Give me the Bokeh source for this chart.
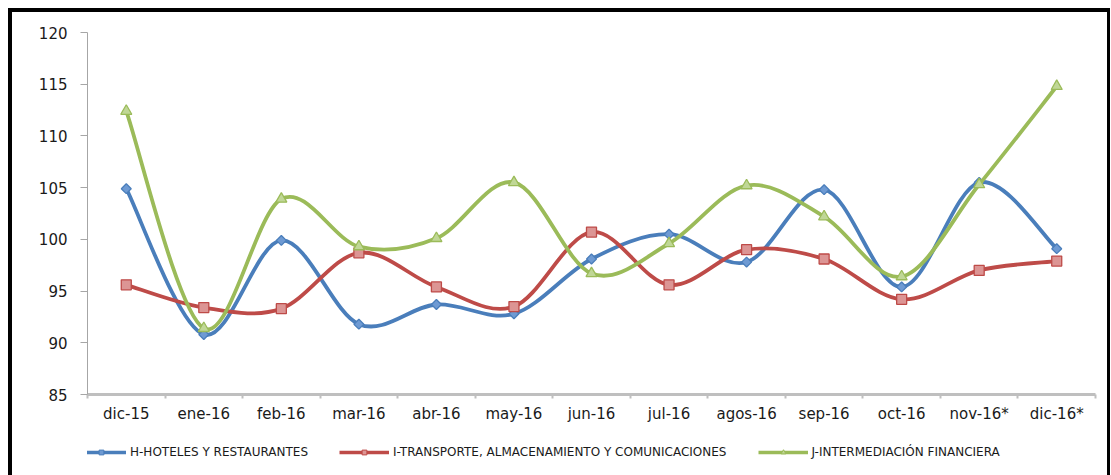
from bokeh.plotting import figure
from bokeh.layouts import column
from bokeh.models import Range1d, FixedTicker, Legend, LegendItem, InlineStyleSheet
from bokeh.embed import file_html
from bokeh.resources import INLINE
import numpy as np

# Monthly index values per sector
months = ["dic-15", "ene-16", "feb-16", "mar-16", "abr-16", "may-16", "jun-16",
          "jul-16", "agos-16", "sep-16", "oct-16", "nov-16*", "dic-16*"]
hoteles = [104.9, 90.8, 99.9, 91.8, 93.7, 92.8, 98.1, 100.5, 97.8, 104.8, 95.4, 105.5, 99.1]
transporte = [95.6, 93.4, 93.3, 98.7, 95.4, 93.5, 100.7, 95.6, 99.0, 98.1, 94.2, 97.0, 97.9]
financiera = [112.4, 91.4, 103.9, 99.3, 100.1, 105.5, 96.7, 99.6, 105.2, 102.2, 96.4, 105.3, 114.8]

labels = ["H-HOTELES Y RESTAURANTES",
          "I-TRANSPORTE, ALMACENAMIENTO Y COMUNICACIONES",
          "J-INTERMEDIACIÓN FINANCIERA"]
y_ticks = [85, 90, 95, 100, 105, 110, 115, 120]

W = 1111
CHART_H, LEGEND_H = 440, 35

p = figure(width=W, height=CHART_H, output_backend="svg", toolbar_location=None,
           x_range=Range1d(-0.5, len(months) - 0.5), y_range=Range1d(85, 120),
           min_border_left=87, min_border_right=16, min_border_top=32,
           min_border_bottom=46)
p.outline_line_color = None
p.xgrid.grid_line_color = None
p.ygrid.grid_line_color = None
p.background_fill_color = "white"
p.border_fill_color = "white"

# y axis
p.yaxis.ticker = FixedTicker(ticks=y_ticks)
p.yaxis.axis_line_color = "#a6a6a6"
p.yaxis.axis_line_width = 1
p.yaxis.major_tick_line_color = "#a6a6a6"
p.yaxis.major_tick_out = 7
p.yaxis.major_tick_in = 0
p.yaxis.minor_tick_line_color = None
p.yaxis.major_label_standoff = 13
p.yaxis.major_label_text_font = "DejaVu Sans"
p.yaxis.major_label_text_font_size = "15px"
p.yaxis.major_label_text_color = "#1a1a1a"

# x axis: labels at the months, ticks between them
xs = list(range(len(months)))
bounds = [i - 0.5 for i in range(len(months) + 1)]
p.xaxis.ticker = FixedTicker(ticks=xs, minor_ticks=bounds)
p.xaxis.major_label_overrides = {i: m for i, m in enumerate(months)}
p.xaxis.axis_line_color = "#bfbfbf"
p.xaxis.axis_line_width = 3
p.xaxis.major_tick_line_color = None
p.xaxis.major_tick_out = 0
p.xaxis.major_tick_in = 0
p.xaxis.minor_tick_line_color = "#bfbfbf"
p.xaxis.minor_tick_line_width = 2
p.xaxis.minor_tick_out = 4
p.xaxis.minor_tick_in = 0
p.xaxis.major_label_standoff = 6
p.xaxis.major_label_text_font = "DejaVu Sans"
p.xaxis.major_label_text_font_size = "15px"
p.xaxis.major_label_text_color = "#1a1a1a"


def smooth_segments(y):
    """Cubic Bezier segments through the points (Catmull-Rom tangents)."""
    x = np.arange(len(y), dtype=float)
    y = np.asarray(y, dtype=float)
    n = len(y)
    xp = np.concatenate([[x[0]], x, [x[-1]]])
    yp = np.concatenate([[y[0]], y, [y[-1]]])
    seg = dict(x0=[], y0=[], x1=[], y1=[], cx0=[], cy0=[], cx1=[], cy1=[])
    for i in range(n - 1):
        j = i + 1
        seg["x0"].append(x[i]); seg["y0"].append(y[i])
        seg["x1"].append(x[j]); seg["y1"].append(y[j])
        seg["cx0"].append(x[i] + (xp[j + 1] - xp[j - 1]) / 6)
        seg["cy0"].append(y[i] + (yp[j + 1] - yp[j - 1]) / 6)
        seg["cx1"].append(x[j] - (xp[j + 2] - xp[j]) / 6)
        seg["cy1"].append(y[j] - (yp[j + 2] - yp[j]) / 6)
    return seg


styles = [
    dict(data=hoteles, line="#4a7ebb", fill="#6e9ad3", marker="square", size=7, angle=np.pi / 4),
    dict(data=transporte, line="#be4b48", fill="#dc9594", marker="square", size=10, angle=0),
    dict(data=financiera, line="#9bbb59", fill="#c0d796", marker="triangle", size=11, angle=0),
]

for s in styles:
    seg = smooth_segments(s["data"])
    p.bezier(line_color=s["line"], line_width=3.8, line_cap="round", **seg)
    p.scatter(xs, s["data"], marker=s["marker"], size=s["size"], angle=s["angle"],
              fill_color=s["fill"], line_color=s["line"], line_width=1.3)

# legend strip under the chart; its series sit outside its (unit) ranges,
# so only their legend swatches are seen
lg = figure(width=W, height=LEGEND_H, output_backend="svg", toolbar_location=None,
            x_axis_location=None, y_axis_location=None,
            x_range=Range1d(0, 1), y_range=Range1d(0, 1),
            min_border=0)
lg.outline_line_color = None
lg.grid.visible = False
lg.background_fill_color = "white"
lg.border_fill_color = "white"

items = []
for s, lab in zip(styles, labels):
    ln = lg.line(xs, s["data"], line_color=s["line"], line_width=3.5)
    mk = lg.scatter(xs, s["data"], marker=s["marker"], size=s["size"] * 0.65,
                    angle=s["angle"], fill_color=s["fill"], line_color=s["line"],
                    line_width=1)
    items.append(LegendItem(label=lab, renderers=[ln, mk]))

legend = Legend(items=items, orientation="horizontal", location=(-11, 16),
                glyph_width=50, glyph_height=12, label_standoff=4, spacing=31,
                padding=0, margin=0, border_line_color=None,
                background_fill_alpha=0,
                label_text_font="DejaVu Sans", label_text_font_size="12px",
                label_text_color="#1a1a1a")
lg.add_layout(legend, "center")

page = column(p, lg, spacing=0)

# black frame drawn around the whole chart (open at the bottom)
page.stylesheets = [InlineStyleSheet(css="""
:host { position: relative; }
:host::after {
  content: "";
  position: absolute;
  left: 8px; top: 8px; right: 1px; bottom: 0px;
  border-left: 4px solid #000;
  border-top: 4px solid #000;
  border-right: 3px solid #000;
  pointer-events: none;
  z-index: 100;
}
""")]

open("out.html", "w").write(file_html(page, INLINE))
